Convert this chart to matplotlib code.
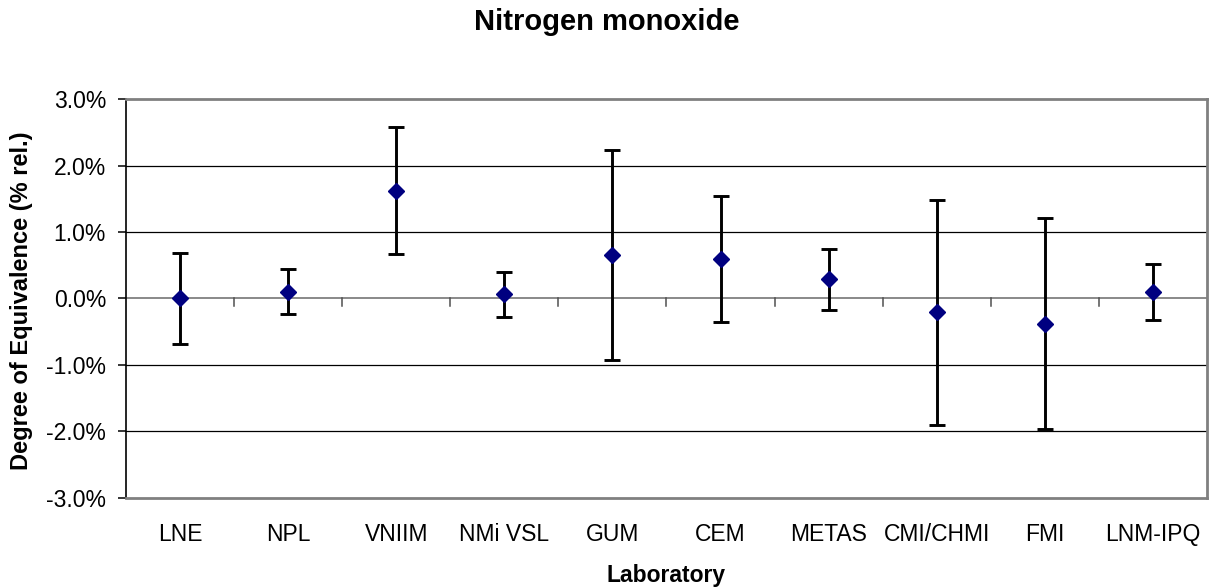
import numpy as np
import matplotlib.pyplot as plt
from matplotlib.ticker import FuncFormatter, FixedLocator

plt.rcParams["font.family"] = ["Liberation Sans", "DejaVu Sans"]

labs = ["LNE", "NPL", "VNIIM", "NMi VSL", "GUM", "CEM", "METAS", "CMI/CHMI", "FMI", "LNM-IPQ"]
doe = [0.00, 0.105, 1.62, 0.07, 0.655, 0.595, 0.29, -0.205, -0.38, 0.10]
upper = [0.69, 0.445, 2.58, 0.405, 2.235, 1.545, 0.75, 1.485, 1.205, 0.525]
lower = [-0.69, -0.235, 0.665, -0.275, -0.93, -0.355, -0.175, -1.895, -1.96, -0.33]

x = np.arange(1, len(labs) + 1)
doe = np.array(doe)
err = [doe - np.array(lower), np.array(upper) - doe]

fig = plt.figure(figsize=(12.14, 5.88), dpi=100)
ax = fig.add_axes([0.1038, 0.1531, 0.8904, 0.6785])

for y in [-2, -1, 1, 2]:
    ax.axhline(y, color="black", lw=0.9, zorder=1)
ax.axhline(0, color="#808080", lw=1.3, zorder=1)
# category separator ticks on the zero line
for b in np.arange(1.5, len(labs) + 0.5, 1.0):
    ax.plot([b, b], [0, -0.11], color="#505050", lw=1.1, zorder=1)

ax.errorbar(x, doe, yerr=err, fmt="D", color="#000080", ms=8,
            ecolor="black", elinewidth=2.1, capsize=5.5, capthick=2.1, zorder=3)

ax.set_xlim(0.5, len(labs) + 0.5)
ax.set_ylim(-3, 3)
ax.yaxis.set_major_locator(FixedLocator([-3, -2, -1, 0, 1, 2, 3]))
ax.yaxis.set_major_formatter(FuncFormatter(lambda v, p: f"{v:.1f}%"))
ax.set_xticks(x)
ax.set_xticklabels(labs)
ax.tick_params(axis="x", length=0, pad=18, labelsize=16.5)
ax.tick_params(axis="y", length=5.8, width=1.1, direction="out", labelsize=16.5, pad=8.6)

for s in ["top", "right", "bottom"]:
    ax.spines[s].set_color("#808080")
    ax.spines[s].set_linewidth(2)
ax.spines["left"].set_color("black")
ax.spines["left"].set_linewidth(1.2)

fig.text(0.5, 1 - 30 / 588, "Nitrogen monoxide", fontsize=21, fontweight="bold",
         ha="center", va="baseline")
ax_mid = 0.1038 + 0.8904 / 2
fig.text(ax_mid, 1 - 582 / 588, "Laboratory", fontsize=16.5, fontweight="bold",
         ha="center", va="baseline")
fig.text(0.0177, 1 - 301 / 588, "Degree of Equivalence (% rel.)", fontsize=17,
         fontweight="bold", rotation=90, ha="center", va="center")

fig.savefig("out.png", dpi=100)
